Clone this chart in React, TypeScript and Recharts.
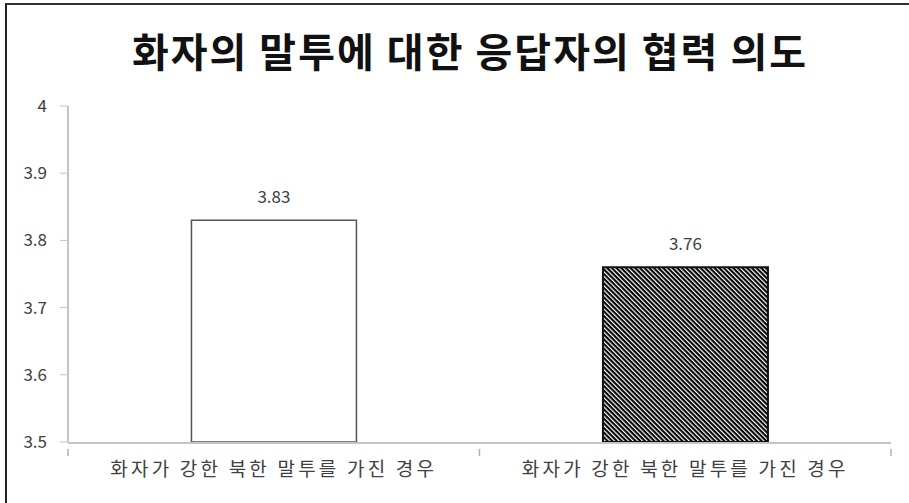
import { BarChart, Bar, XAxis, YAxis, Cell, LabelList } from "recharts"

// ─── Data ────────────────────────────────────────────────────────────────────

const categories = ["화자가 강한 북한 말투를 가진 경우", "화자가 강한 북한 말투를 가진 경우"]
const scores = [3.83, 3.76]
const yTicks = [3.5, 3.6, 3.7, 3.8, 3.9, 4]
const title = "화자의 말투에 대한 응답자의 협력 의도"

const data = categories.map((name, i) => ({ name, score: scores[i], edge: i }))
const edgeTicks = [0, 1, 2]

const FONT = '"Noto Sans CJK KR", "Noto Sans", sans-serif'
const AXIS = "#c4c4c4"
const TEXT = "#404040"

// small tick mark below the axis at each category boundary
const EdgeTick = (props: any) => (
  <line x1={props.x} x2={props.x} y1={props.y - 1} y2={props.y + 6} stroke="#b0b0b0" strokeWidth={1.5} />
)

export default function App() {
  return (
    <div
      style={{
        position: "absolute",
        left: 0,
        top: 0,
        width: 909,
        height: 503,
        background: "#fff",
        fontFamily: FONT,
      }}
    >
      {/* frame */}
      <div
        style={{
          position: "absolute",
          left: 5,
          top: 3,
          width: 904,
          height: 498,
          borderLeft: "2px solid #222",
          borderTop: "2px solid #333",
          borderBottom: "1px solid #ddd",
        }}
      />
      <div
        style={{
          position: "absolute",
          left: 0,
          top: 21,
          width: 940,
          textAlign: "center",
          fontSize: 40,
          fontWeight: 700,
          color: "#111",
          letterSpacing: 2,
        }}
      >
        {title}
      </div>
      <div style={{ position: "absolute", left: 0, top: 0 }}>
        <BarChart
          width={909}
          height={503}
          data={data}
          margin={{ top: 106, right: 18, left: 0, bottom: 31 }}
          barCategoryGap="30%"
        >
          <defs>
            <pattern
              id="hatch"
              width="3.3"
              height="3.3"
              patternUnits="userSpaceOnUse"
              patternTransform="rotate(45)"
            >
              <rect width="3.3" height="3.3" fill="#fff" />
              <rect width="3.3" height="2.1" fill="#000" />
            </pattern>
          </defs>
          <XAxis
            xAxisId="a"
            dataKey="edge"
            type="number"
            domain={[0, categories.length]}
            ticks={edgeTicks}
            height={1}
            axisLine={false}
            tickLine={false}
            tick={<EdgeTick />}
          />
          <XAxis
            xAxisId="b"
            dataKey="name"
            height={29}
            axisLine={{ stroke: AXIS, strokeWidth: 2 }}
            tickLine={false}
            tick={{ fill: TEXT, fontSize: 19, letterSpacing: 3.2, fontFamily: FONT }}
            tickMargin={14}
            interval={0}
          />
          <YAxis
            domain={[3.5, 4]}
            ticks={yTicks}
            width={68}
            axisLine={{ stroke: AXIS, strokeWidth: 2 }}
            tickLine={{ stroke: AXIS }}
            tickSize={8}
            tickMargin={13}
            tick={{ fill: TEXT, fontSize: 17, fontFamily: FONT }}
          />
          <Bar dataKey="score" xAxisId="b" isAnimationActive={false}>
            {data.map((d, i) => (
              <Cell
                key={d.edge}
                fill={i === 0 ? "#fff" : "url(#hatch)"}
                stroke={i === 0 ? "#555" : "#111"}
                strokeWidth={i === 0 ? 1.5 : 2}
              />
            ))}
            <LabelList
              dataKey="score"
              position="top"
              offset={17}
              fill={TEXT}
              fontSize={17}
              fontFamily={FONT}
            />
          </Bar>
        </BarChart>
      </div>
    </div>
  )
}
